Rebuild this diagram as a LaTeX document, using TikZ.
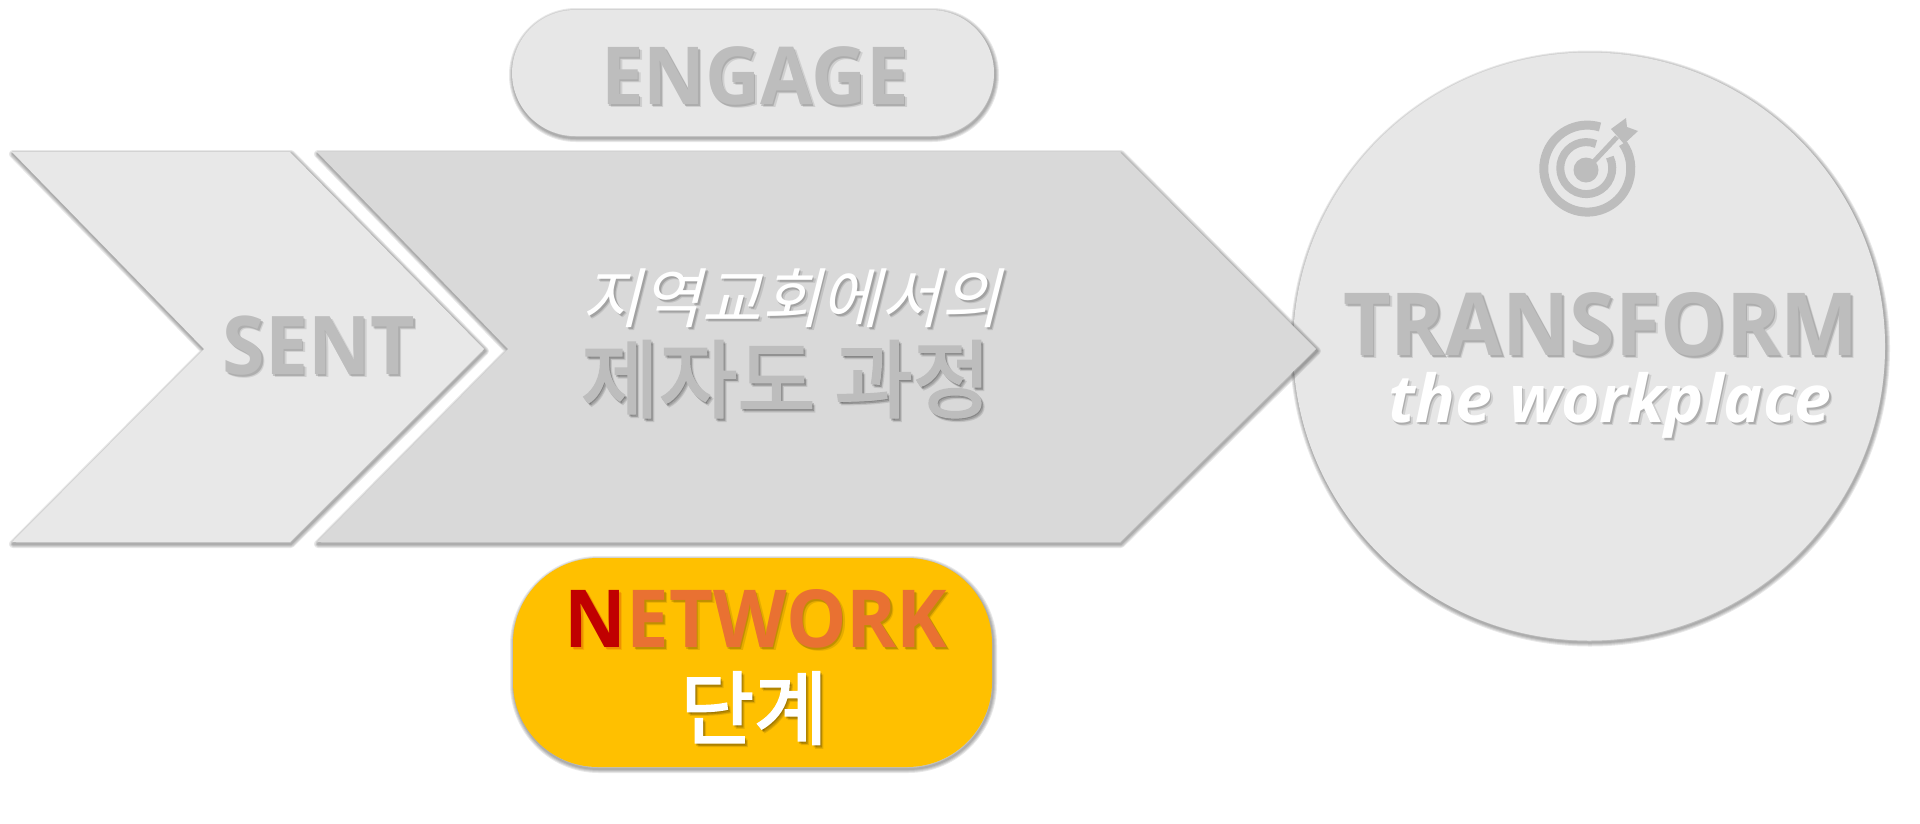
\documentclass[tikz,border=0pt]{standalone}
\usepackage{fontspec}
\setmainfont{Open Sans}[FakeStretch=0.95]
\newfontfamily\latinslant{Open Sans}
\newfontfamily\krfont[FakeBold=2.5]{Noto Sans CJK KR}
\newfontfamily\krslant[FakeSlant=0.25]{Noto Sans CJK KR}
\definecolor{sentgrey}{HTML}{E8E8E8}
\definecolor{chevgrey}{HTML}{D9D9D9}
\definecolor{ringgrey}{HTML}{E7E7E7}
\definecolor{wordgrey}{HTML}{BDBDBD}
\definecolor{netgold}{HTML}{FFC000}
\definecolor{netorange}{HTML}{E97132}
\definecolor{netred}{HTML}{C00000}
\tikzset{
  softrim/.style={draw=black,opacity=.09,line join=round,xshift=1pt,yshift=-2pt},
  wordnode/.style={inner sep=0pt,anchor=base},
}
\newcommand{\softplate}[3][]{
\foreach \rimwidth in {8,6,4,2} {\draw [softrim,line width=\rimwidth pt,#1] #3;}
\fill [#2,#1] #3;
}
\newcommand{\shadeword}[4]{
\node [wordnode,text=black,opacity=.1,xshift=3pt,yshift=-3.5pt] at (#2) {#4};
\node [wordnode,text=black,opacity=.16,xshift=1.5pt,yshift=-2pt] at (#2) {#4};
\node [wordnode,#3] (#1) at (#2) {#4};
}
\begin{document}
\begin{tikzpicture}[x=1pt,y=-1pt]
\useasboundingbox (0,0) rectangle (1920,823);
\fill [white] (0,0) rectangle (1920,823);
\softplate{ringgrey}{(1589,346.5) ellipse [x radius=296,y radius=294]}
\softplate{sentgrey}{(12,152) -- (290,152) -- (484,349) -- (290,542) -- (12,542) -- (204,349) -- cycle}
\softplate{chevgrey}{(317,152) -- (1120,152) -- (1316,349) -- (1120,542) -- (317,542) -- (508,349) -- cycle}
\softplate[rounded corners=63pt]{ringgrey}{(512,10) rectangle (994,136)}
\softplate[rounded corners=85pt]{netgold}{(513,558) rectangle (992,767)}
\draw [wordgrey,line width=9pt] (1600,127) arc [start angle=-73,end angle=-395,radius=43.5];
\draw [wordgrey,line width=8pt] (1596,144) arc [start angle=-68,end angle=-385,radius=26];
\fill [wordgrey] (1586,170) circle [radius=12.5];
\draw [wordgrey,line width=5pt] (1586,170) -- (1617,137);
\fill [wordgrey] (1611,129) -- (1626,118) -- (1627,127) -- (1638,131) -- (1624,144) -- (1618,137) -- cycle;
\shadeword{sentword}{319,374}{text=wordgrey}{\fontsize{81}{90}\selectfont\bfseries SENT}
\shadeword{engageword}{755,104}{text=wordgrey}{\fontsize{80}{90}\selectfont\bfseries ENGAGE}
\shadeword{transformword}{1601,355}{text=wordgrey}{\fontsize{87}{90}\selectfont\bfseries TRANSFORM}
\shadeword{workplaceword}{1610,422}{text=white}{\fontsize{66}{70}\selectfont\latinslant\bfseries\itshape the workplace}
\shadeword{localword}{791,322}{text=white}{\fontsize{65}{70}\selectfont\krslant 지역교회에서의}
\shadeword{courseword}{786,411}{text=wordgrey}{\fontsize{85}{90}\selectfont\krfont 제자도 과정}
\shadeword{networkword}{756,647}{text=netorange}{\fontsize{80}{90}\selectfont\bfseries\textcolor{netred}{N}ETWORK}
\shadeword{stageword}{754,738}{text=white}{\fontsize{80}{90}\selectfont\krfont 단계}
\end{tikzpicture}
\end{document}
